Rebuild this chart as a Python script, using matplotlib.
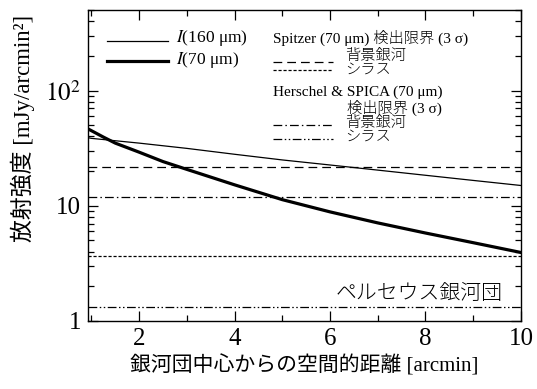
import numpy as np
import matplotlib
matplotlib.use("Agg")
import matplotlib.pyplot as plt
from matplotlib.ticker import FixedLocator, FixedFormatter, NullFormatter

# ── fonts: serif for latin, CJK fallback for Japanese ──
plt.rcParams["font.family"] = ["Liberation Serif", "Noto Sans CJK JP"]
plt.rcParams["mathtext.fontset"] = "stix"
plt.rcParams["font.weight"] = "light"

# ── data ──
dist_160 = [0.93, 1, 2, 3, 4, 5, 6, 7, 8, 9, 10]
I_160 = [39.0, 38.5, 35.0, 31.5, 28.0, 25.0, 22.6, 20.4, 18.4, 16.6, 15.0]

dist_70 = [0.93, 1.25, 1.5, 2, 2.5, 3, 4, 5, 6, 7, 8, 9, 10]
I_70 = [46.5, 39.5, 35.0, 29.2, 24.2, 20.7, 15.2, 11.3, 8.85, 7.1, 5.8, 4.78, 3.93]

spitzer_bg = 21.8      # 背景銀河
spitzer_cirrus = 3.64  # シラス
hs_bg = 12.0
hs_cirrus = 1.33

xticks = [2, 4, 6, 8, 10]
yticks = [1, 10, 100]
ytick_labels = ["1", "10", r"$10^2$"]

fig = plt.figure(figsize=(5.37, 3.89), dpi=100)
ax = fig.add_axes([0.164, 0.175, 0.806, 0.799])

ax.plot(dist_160, I_160, color="black", lw=0.9)
ax.plot(dist_70, I_70, color="black", lw=2.3)

ax.axhline(spitzer_bg, color="black", lw=0.9, dashes=(7, 4))
ax.axhline(spitzer_cirrus, color="black", lw=0.9, dashes=(2.5, 1.5))
ax.axhline(hs_bg, color="black", lw=0.9, dashes=(7, 2.5, 1.2, 2.5))
ax.axhline(hs_cirrus, color="black", lw=0.9, dashes=(7, 2, 1.2, 2, 1.2, 2))

ax.set_yscale("log")
ax.set_xlim(0.93, 10)
ax.set_ylim(1, 500)

ax.xaxis.set_major_locator(FixedLocator(xticks))
ax.xaxis.set_minor_locator(FixedLocator(range(1, 11)))
ax.yaxis.set_major_locator(FixedLocator(yticks))
ax.yaxis.set_major_formatter(FixedFormatter(ytick_labels))
ax.yaxis.set_minor_formatter(NullFormatter())
ax.tick_params(which="both", direction="in", top=True, right=True, width=0.9)
ax.tick_params(which="major", length=7, labelsize=18, pad=5)
ax.tick_params(which="minor", length=4)
for s in ax.spines.values():
    s.set_linewidth(1.0)

ax.set_xlabel("銀河団中心からの空間的距離 [arcmin]", fontsize=15, labelpad=4)
ax.set_ylabel("放射強度 [mJy/arcmin²]", fontsize=16.5)
ax.yaxis.set_label_coords(-0.122, 0.62)

# ── hand-made legend (axes fraction) ──
tr = ax.transAxes
lkw = dict(transform=tr, color="black", lw=0.9, clip_on=False)
ax.plot([0.044, 0.185], [0.902, 0.902], **lkw)
ax.plot([0.044, 0.185], [0.836, 0.836], transform=tr, color="black", lw=2.3)
ax.text(0.203, 0.910, r"$I$(160 μm)", transform=tr, fontsize=12.5, va="center")
ax.text(0.203, 0.839, r"$I$(70 μm)", transform=tr, fontsize=12.5, va="center")

ax.text(0.427, 0.910, "Spitzer (70 μm) 検出限界 (3 σ)", transform=tr,
        fontsize=11, va="center")
ax.plot([0.427, 0.566], [0.833, 0.833], dashes=(7, 4), **lkw)
ax.text(0.594, 0.851, "背景銀河", transform=tr, fontsize=11, va="center")
ax.plot([0.427, 0.566], [0.808, 0.808], dashes=(2.5, 1.5), **lkw)
ax.text(0.594, 0.808, "シラス", transform=tr, fontsize=11, va="center")

ax.text(0.427, 0.736, "Herschel & SPICA (70 μm)", transform=tr,
        fontsize=11, va="center")
ax.text(0.598, 0.685, "検出限界 (3 σ)", transform=tr, fontsize=11, va="center")
ax.plot([0.427, 0.566], [0.630, 0.630], dashes=(7, 2.5, 1.2, 2.5), **lkw)
ax.text(0.594, 0.637, "背景銀河", transform=tr, fontsize=11, va="center")
ax.plot([0.427, 0.566], [0.585, 0.585], dashes=(7, 2, 1.2, 2, 1.2, 2), **lkw)
ax.text(0.594, 0.592, "シラス", transform=tr, fontsize=11, va="center")

ax.text(0.958, 0.084, "ペルセウス銀河団", transform=tr, fontsize=15,
        ha="right", va="center")

fig.savefig("out.png", dpi=100)
